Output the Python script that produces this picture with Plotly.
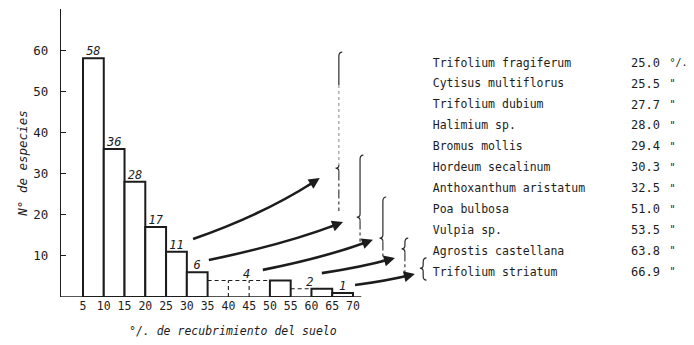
import plotly.graph_objects as go

# Number of species per soil-cover class (class lower bound, %)
bin_left = [5, 10, 15, 20, 25, 30, 50, 60, 65]
species_count = [58, 36, 28, 17, 11, 6, 4, 2, 1]

# Classes drawn with a dashed outline
dashed_left = [35, 40, 45, 55]
dashed_count = [4, 4, 4, 2]

# Counts written above the histogram
label_x = [7.5, 12.5, 17.5, 22.5, 27.5, 32.5, 44.4, 59.6, 67.5]
label_val = [58, 36, 28, 17, 11, 6, 4, 2, 1]

# Species with their mean cover (%)
species = ["Trifolium fragiferum", "Cytisus multiflorus", "Trifolium dubium",
           "Halimium sp.", "Bromus mollis", "Hordeum secalinum",
           "Anthoxanthum aristatum", "Poa bulbosa", "Vulpia sp.",
           "Agrostis castellana", "Trifolium striatum"]
cover = [25.0, 25.5, 27.7, 28.0, 29.4, 30.3, 32.5, 51.0, 53.5, 63.8, 66.9]

x_ticks = [5, 10, 15, 20, 25, 30, 35, 40, 45, 50, 55, 60, 65, 70]
y_ticks = [10, 20, 30, 40, 50, 60]

INK = "#1c1c1c"
FONT = "DejaVu Sans Mono"
W = 5

fig = go.Figure()

# baseline
fig.add_trace(go.Scatter(x=[-0.3, 72], y=[0, 0], mode="lines",
                         line=dict(color=INK, width=1.4), hoverinfo="skip"))

# dashed classes: top edge, plus the left edge when the neighbour is dashed too
for l, h in zip(dashed_left, dashed_count):
    if (l - W) in dashed_left:
        xs, ys = [l, l, None, l, l + W], [0, h, None, h, h]
    else:
        xs, ys = [l, l + W], [h, h]
    fig.add_trace(go.Scatter(x=xs, y=ys, mode="lines",
                             line=dict(color=INK, width=1.1, dash="4px,3px"),
                             hoverinfo="skip"))

# solid classes
fig.add_trace(go.Bar(x=[l + W / 2 for l in bin_left], y=species_count, width=W,
                     marker=dict(color="white", line=dict(color=INK, width=2)),
                     hoverinfo="skip"))

# count labels
fig.add_trace(go.Scatter(x=label_x, y=label_val, mode="text",
                         text=[f"<i>{v}</i>" for v in label_val],
                         textposition="top center",
                         textfont=dict(family=FONT, size=12, color=INK),
                         cliponaxis=False, hoverinfo="skip"))

# species list
row_top, row_step = 56.7, 5.08
row_y = [row_top - i * row_step for i in range(len(species))]
fig.add_trace(go.Scatter(x=[89.2] * len(species), y=row_y, mode="text",
                         text=species, textposition="middle right",
                         textfont=dict(family=FONT, size=11.5, color=INK),
                         cliponaxis=False, hoverinfo="skip"))
fig.add_trace(go.Scatter(x=[143.9] * len(cover), y=row_y, mode="text",
                         text=[f"{c:.1f}" for c in cover], textposition="middle left",
                         textfont=dict(family=FONT, size=12, color=INK),
                         cliponaxis=False, hoverinfo="skip"))
fig.add_trace(go.Scatter(x=[146.2] * len(cover), y=row_y, mode="text",
                         text=["°/."] + ['"'] * (len(cover) - 1),
                         textposition="middle right",
                         textfont=dict(family=FONT, size=10, color=INK),
                         cliponaxis=False, hoverinfo="skip"))

shapes = []
annotations = []

# curved arrows from the classes to the species groups
arrows = [((31.5, 14.1), (62.0, 28.9)),
          ((35.3, 9.0), (67.6, 18.2)),
          ((48.3, 6.6), (74.8, 13.9)),
          ((62.5, 5.8), (80.1, 9.5)),
          ((70.5, 2.9), (84.9, 5.6))]
for (x0, y0), (x2, y2) in arrows:
    dx, dy = x2 - x0, y2 - y0
    cx, cy = x0 + 0.55 * dx, y0 + 0.4 * dy
    shapes.append(dict(type="path", xref="x", yref="y",
                       path=f"M {x0},{y0} Q {cx},{cy} {x2 - 0.12 * (x2 - cx)},{y2 - 0.12 * (y2 - cy)}",
                       line=dict(color=INK, width=2.6)))
    tx, ty = x2 - 0.25 * (x2 - cx), y2 - 0.25 * (y2 - cy)
    annotations.append(dict(x=x2, y=y2, ax=tx, ay=ty, xref="x", yref="y",
                            axref="x", ayref="y", text="", showarrow=True,
                            arrowhead=2, arrowsize=1.1, arrowwidth=2,
                            arrowcolor=INK, standoff=0))

# braces: x, top, point, bottom; lower part dash-dotted unless closed
braces = [(66.6, 59.5, 31.3, 20.9, False),
          (71.7, 34.5, 19.4, 13.4, False),
          (77.2, 24.3, 14.3, 8.5, False),
          (82.5, 14.3, 11.7, 5.3, False),
          (86.9, 9.5, 7.0, 4.1, True)]
BR = "#2a2a2a"
for i, (bx, top, k, bot, closed) in enumerate(braces):
    hx, hy = 0.8, 1.0
    if i == 0:
        upper = f"M {bx + hx},{top} Q {bx},{top} {bx},{top - hy} L {bx},51.5"
        shapes.append(dict(type="path", xref="x", yref="y", path=upper,
                           line=dict(color=BR, width=1.2)))
        shapes.append(dict(type="line", xref="x", yref="y", x0=bx, x1=bx,
                           y0=51.5, y1=k + 0.8,
                           line=dict(color="#9a9a9a", width=1.2, dash="dot")))
        p = f"M {bx},{k + 0.8} Q {bx},{k} {bx - hx},{k} Q {bx},{k} {bx},{k - 0.8}"
    else:
        p = (f"M {bx + hx},{top} Q {bx},{top} {bx},{top - hy} L {bx},{k + 0.8} "
             f"Q {bx},{k} {bx - hx},{k} Q {bx},{k} {bx},{k - 0.8}")
    if closed:
        p += f" L {bx},{bot + hy} Q {bx},{bot} {bx + hx},{bot}"
    shapes.append(dict(type="path", xref="x", yref="y", path=p,
                       line=dict(color=BR, width=1.2)))
    if not closed:
        shapes.append(dict(type="line", xref="x", yref="y", x0=bx, x1=bx,
                           y0=k - 0.8, y1=bot,
                           line=dict(color=BR, width=1.1, dash="dashdot")))

# axis titles
annotations.append(dict(text="<i>°/. de recubrimiento del suelo</i>", x=41.1, y=-0.118,
                        xref="x", yref="paper", showarrow=False, yanchor="middle",
                        font=dict(family=FONT, size=11.5, color=INK)))
annotations.append(dict(text="<i>N° de especies</i>", x=-0.076, y=32.5,
                        xref="paper", yref="y", showarrow=False, textangle=-90,
                        font=dict(family=FONT, size=12.5, color=INK)))

fig.update_layout(
    width=694, height=345,
    margin=dict(l=61, r=0, t=9, b=48),
    paper_bgcolor="white", plot_bgcolor="white",
    showlegend=False,
    shapes=shapes, annotations=annotations,
    xaxis=dict(range=[-0.296, 152.1], showgrid=False, zeroline=False,
               showline=False, tickmode="array", tickvals=x_ticks,
               ticks="", tickfont=dict(family=FONT, size=11.5, color=INK)),
    yaxis=dict(range=[0, 70], showgrid=False, zeroline=False,
               showline=True, linecolor=INK, linewidth=1.4,
               tickmode="array", tickvals=y_ticks, ticks="inside",
               ticklen=5, tickcolor=INK, ticklabelstandoff=9,
               tickfont=dict(family=FONT, size=12.5, color=INK)),
)

fig.write_html("out.html")
